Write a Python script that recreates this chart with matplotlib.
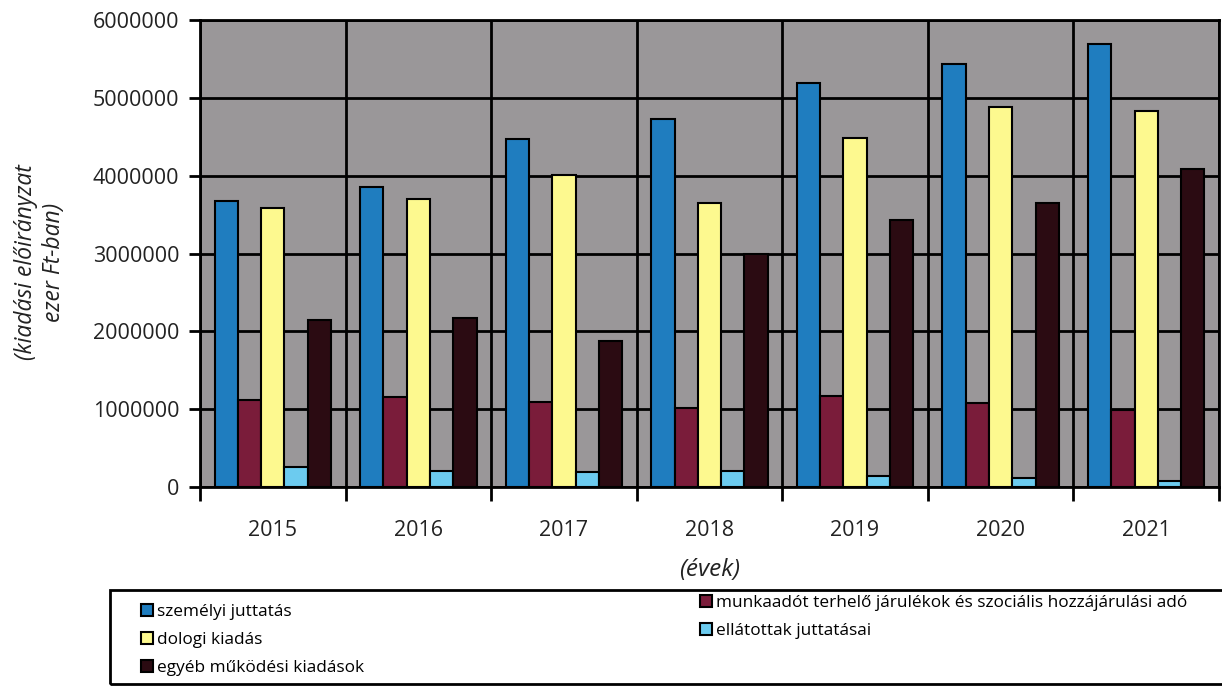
import numpy as np
import matplotlib
matplotlib.use('Agg')
import matplotlib.pyplot as plt
from matplotlib.patches import Rectangle, Patch

plt.rcParams['font.family'] = ['Open Sans', 'DejaVu Sans']

# Data (ezer Ft)
years = ['2015', '2016', '2017', '2018', '2019', '2020', '2021']
szemelyi = [3680000, 3850000, 4470000, 4730000, 5190000, 5440000, 5690000]
munkaado = [1120000, 1160000, 1090000, 1020000, 1170000, 1080000, 990000]
dologi = [3580000, 3700000, 4010000, 3650000, 4490000, 4880000, 4830000]
ellatottak = [260000, 200000, 190000, 200000, 140000, 120000, 80000]
egyeb = [2140000, 2170000, 1870000, 3000000, 3430000, 3650000, 4090000]

series = [
    ('személyi juttatás', szemelyi, '#1f7dbf'),
    ('munkaadót terhelő járulékok és szociális hozzájárulási adó', munkaado, '#7a1c3a'),
    ('dologi kiadás', dologi, '#fdf98f'),
    ('ellátottak juttatásai', ellatottak, '#6ccbef'),
    ('egyéb működési kiadások', egyeb, '#2b0b12'),
]

fig = plt.figure(figsize=(12.22, 6.86), dpi=100)
ax = fig.add_axes([0.1637, 0.2901, 0.9975 - 0.1637, 0.9708 - 0.2901])
ax.set_facecolor('#9a9799')

x = np.arange(len(years))
w = 0.16
for i, (name, vals, col) in enumerate(series):
    ax.bar(x + (i - 2) * w, vals, width=w, color=col, edgecolor='black',
           linewidth=1.5, zorder=3, label=name)

ax.set_xlim(-0.5, len(years) - 0.5)
ax.set_ylim(0, 6000000)
ax.set_yticks(np.arange(0, 6000001, 1000000))
ax.set_yticklabels([str(v) for v in range(0, 6000001, 1000000)])
ax.set_xticks(x)
ax.set_xticklabels(years)
ax.set_xticks(np.arange(-0.5, len(years)), minor=True)

ax.grid(True, axis='y', color='black', linewidth=2, zorder=1)
ax.grid(True, axis='x', which='minor', color='black', linewidth=2, zorder=1)
ax.set_axisbelow(True)

ax.tick_params(axis='y', length=8, width=2, pad=7, labelsize=15.5,
               labelcolor='#222222')
ax.tick_params(axis='x', which='major', length=0, pad=24, labelsize=15.5,
               labelcolor='#222222')
ax.tick_params(axis='x', which='minor', length=10, width=2)
for s in ax.spines.values():
    s.set_linewidth(2)

ax.set_xlabel('(évek)', fontsize=17.5, style='italic', color='#222222', labelpad=12)
fig.text(0.0327, 0.618, '(kiadási előirányzat\nezer Ft-ban)', rotation=90,
         ha='center', va='center', fontsize=16.5, style='italic',
         color='#222222', linespacing=1.25)

# Legend frame (clipped by the page edge in the original)
fig.patches.append(Rectangle((110 / 1222, 1 - 684 / 686), 1.2, (684 - 590) / 686,
                             transform=fig.transFigure, fill=False,
                             edgecolor='black', linewidth=2))

def handle(col):
    return Patch(facecolor=col, edgecolor='black', linewidth=1.5)

left_items = [series[0], series[2], series[4]]
right_items = [series[1], series[3]]
common = dict(frameon=False, fontsize=12.4, handlelength=0.7, handleheight=0.7,
              handletextpad=0.25, labelspacing=0.69, borderpad=0,
              borderaxespad=0, loc='upper left')
fig.legend([handle(c) for _, _, c in left_items], [n for n, _, _ in left_items],
           bbox_to_anchor=(141 / 1222, 1 - 604 / 686), **common)
fig.legend([handle(c) for _, _, c in right_items], [n for n, _, _ in right_items],
           bbox_to_anchor=(700 / 1222, 1 - 595 / 686), **common)

fig.savefig('out.png', dpi=100)
